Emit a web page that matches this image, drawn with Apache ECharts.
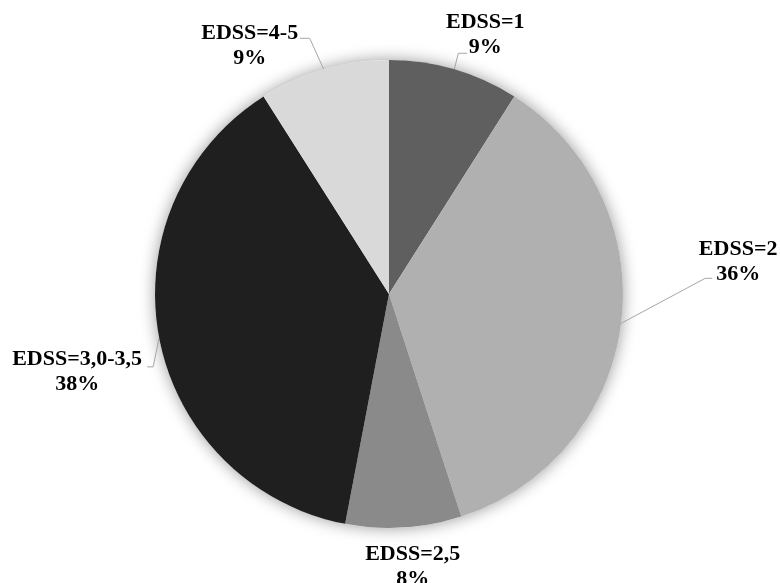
<!DOCTYPE html>
<html>
<head>
<meta charset="utf-8">
<style>
  html, body { margin: 0; padding: 0; background: #ffffff; }
  #chart { width: 780px; height: 583px; }
</style>
<script src="https://cdn.jsdelivr.net/npm/echarts@6/dist/echarts.min.js"></script>
</head>
<body>
<div id="chart"></div>
<script>
// EDSS score groups and their share of patients (%)
const categories = ['EDSS=1', 'EDSS=2', 'EDSS=2,5', 'EDSS=3,0-3,5', 'EDSS=4-5'];
const shares = [9, 36, 8, 38, 9];

// Slice fills, in category order
const sliceColors = ['#5f5f5f', '#b0b0b0', '#8a8a8a', '#1f1f1f', '#d9d9d9'];

// Label placement relative to the slice's outer edge point:
// [label centre dx, dy], [elbow dx, dy], [line end dx, dy]
const labelPlacement = [
  { c: [31, -34], bend: [4, -16], end: [13, -16] },
  { c: [117, -62], bend: [84, -45], end: [91, -45] },
  { c: [9, 39], bend: null, end: null },
  { c: [-82, 34], bend: [-6, 29], end: [-12, 29] },
  { c: [-74, -23], bend: [-14, -31], end: [-24, -31] }
];

const CENTER = [389, 294];
const RADIUS = 234;

const chart = echarts.init(document.getElementById('chart'), null, { renderer: 'canvas' });

const pieData = categories.map((name, i) => ({
  name: name,
  value: shares[i],
  itemStyle: { color: sliceColors[i] },
  labelLine: { show: labelPlacement[i].bend !== null }
}));

chart.setOption({
  backgroundColor: '#ffffff',
  animation: false,
  series: [
    {
      // soft halo behind the disc
      type: 'pie',
      silent: true,
      z: 1,
      center: CENTER,
      radius: RADIUS,
      label: { show: false },
      labelLine: { show: false },
      itemStyle: {
        color: '#ffffff',
        shadowBlur: 16,
        shadowColor: 'rgba(0,0,0,0.4)'
      },
      data: [{ value: 1, name: '' }]
    },
    {
      type: 'pie',
      z: 2,
      center: CENTER,
      radius: RADIUS,
      startAngle: 90,
      clockwise: true,
      avoidLabelOverlap: false,
      data: pieData,
      itemStyle: { borderWidth: 0 },
      label: {
        show: true,
        position: 'outside',
        formatter: '{b}\n{c}%',
        fontFamily: '"Liberation Serif", "Times New Roman", serif',
        fontWeight: 'bold',
        fontSize: 22,
        lineHeight: 25,
        color: '#000000'
      },
      labelLine: {
        show: true,
        lineStyle: { color: '#a6a6a6', width: 1 }
      },
      labelLayout: function (params) {
        const p = labelPlacement[params.dataIndex];
        const edge = params.labelLinePoints ? params.labelLinePoints[0] : null;
        if (!edge) return {};
        const out = {
          x: edge[0] + p.c[0],
          y: edge[1] + p.c[1],
          align: 'center',
          verticalAlign: 'middle'
        };
        if (p.bend) {
          out.labelLinePoints = [
            [edge[0], edge[1]],
            [edge[0] + p.bend[0], edge[1] + p.bend[1]],
            [edge[0] + p.end[0], edge[1] + p.end[1]]
          ];
        }
        return out;
      }
    }
  ]
});
</script>
</body>
</html>
